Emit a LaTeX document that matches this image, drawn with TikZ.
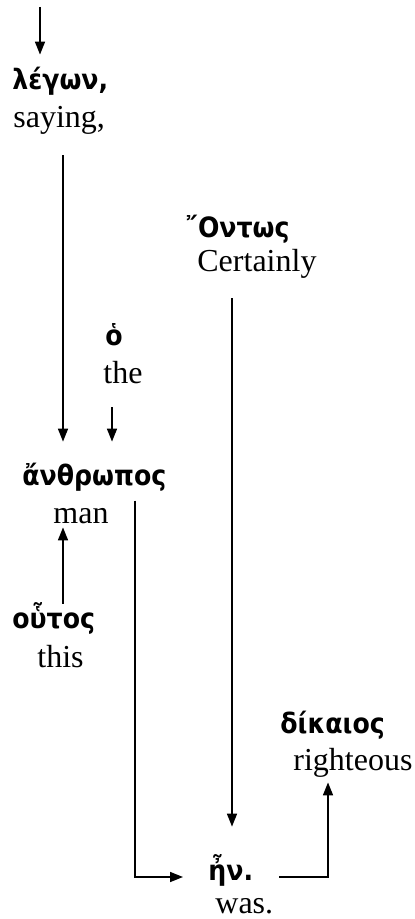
\documentclass[tikz,border=0pt]{standalone}
\usepackage{fontspec}
\usetikzlibrary{arrows.meta}
\setmainfont{Liberation Serif}
\newfontfamily\greekfont{DejaVu Sans Condensed}
\tikzset{
    greek/.style={font=\greekfont\bfseries\fontsize{14}{16}\selectfont, anchor=base west, inner sep=0pt, text height=12pt, text depth=4pt},
    gloss/.style={font=\fontsize{16}{19}\selectfont, anchor=base west, inner sep=0pt, text height=11pt, text depth=4pt},
    arr/.style={-{Triangle[length=6.5pt,width=5pt]}, line width=0.8pt, black}
}
\begin{document}
\begin{tikzpicture}[x=0.5pt, y=-0.5pt]
    % 1. Vùng hiển thị
    \useasboundingbox (0,0) rectangle (415,919);

    % 2. Các từ Hy Lạp và nghĩa tiếng Anh
    \node[greek] (g-legon) at (12,90) {λέγων,};
    \node[gloss] (e-legon) at (13,128) {saying,};

    \node[greek] (g-ontos) at (185,238) {῎Οντως};
    \node[gloss] (e-ontos) at (197,271) {Certainly};

    \node[greek] (g-ho) at (105,345) {ὁ};
    \node[gloss] (e-ho) at (103,383) {the};

    \node[greek] (g-anthropos) at (22,485) {ἄνθρωπος};
    \node[gloss] (e-anthropos) at (53,523) {man};

    \node[greek] (g-houtos) at (12,628) {οὗτος};
    \node[gloss] (e-houtos) at (37,667) {this};

    \node[greek] (g-dikaios) at (280,733) {δίκαιος};
    \node[gloss] (e-dikaios) at (293,770) {righteous};

    \node[greek] (g-en) at (208,880) {ἦν.};
    \node[gloss] (e-en) at (215,913) {was.};

    % 3. Các mũi tên
    \coordinate (top) at (40,7);
    \draw[arr, shorten >=5.5pt] (top) -- (top |- g-legon.north);
    \draw[arr, shorten <=9.5pt, shorten >=9.5pt] (63,0 |- e-legon.south) -- (63,0 |- g-anthropos.north);
    \draw[arr, shorten <=8pt, shorten >=9.5pt] (112,0 |- e-ho.south) -- (112,0 |- g-anthropos.north);
    \draw[arr, shorten >=-2pt] (63,0 |- g-houtos.north) -- (63,0 |- e-anthropos.south);
    \draw[arr, shorten <=9.5pt, shorten >=14.5pt] (232,0 |- e-ontos.south) -- (232,0 |- g-en.north);

    % 4. Nhánh dưới: man -> ἦν -> δίκαιος
    \draw[arr, shorten >=12.5pt] (135,0 |- e-anthropos.north) |- ([yshift=1.5pt]g-en.base west);
    \draw[arr, shorten <=13pt, shorten >=2pt] ([yshift=1.5pt]g-en.base east) -| (328,0 |- e-dikaios.south);
\end{tikzpicture}
\end{document}
